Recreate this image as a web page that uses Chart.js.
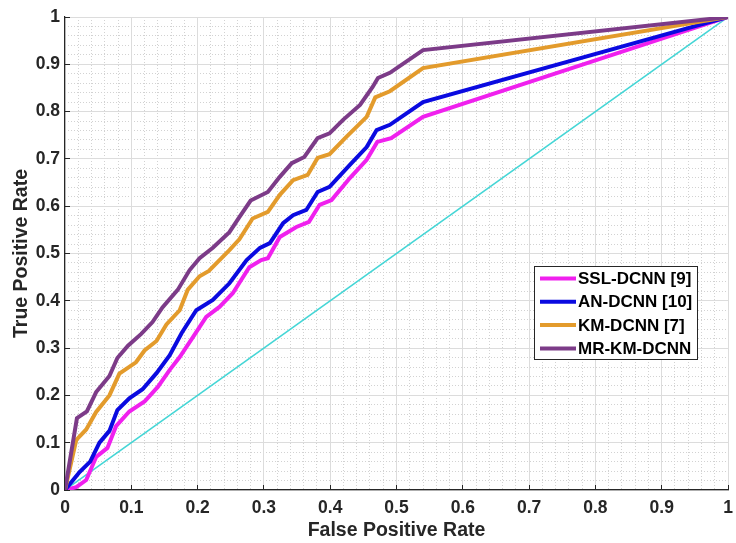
<!DOCTYPE html>
<html>
<head>
<meta charset="utf-8">
<script src="https://cdn.jsdelivr.net/npm/chart.js@4.4.1/dist/chart.umd.min.js"></script>
<style>
  body { margin: 0; background: #ffffff; }
  #wrap { width: 736px; height: 543px; }
</style>
</head>
<body>
<div id="wrap"><canvas id="roc" width="736" height="543"></canvas></div>
<script>
// Courbes ROC (FPR / TPR)
const labels = ["SSL-DCNN [9]", "AN-DCNN [10]", "KM-DCNN [7]", "MR-KM-DCNN"];

const sslFpr = [0, 0.017, 0.032, 0.047, 0.064, 0.077, 0.097, 0.12, 0.14, 0.158, 0.173, 0.193, 0.213, 0.233, 0.253, 0.278, 0.296, 0.306, 0.324, 0.349, 0.368, 0.384, 0.402, 0.43, 0.455, 0.471, 0.492, 0.54, 1];
const sslTpr = [0, 0.006, 0.021, 0.07, 0.089, 0.135, 0.166, 0.187, 0.218, 0.254, 0.281, 0.323, 0.366, 0.387, 0.416, 0.471, 0.486, 0.49, 0.535, 0.556, 0.567, 0.603, 0.613, 0.66, 0.698, 0.736, 0.744, 0.789, 1];

const anFpr = [0, 0.022, 0.038, 0.052, 0.067, 0.079, 0.097, 0.117, 0.138, 0.158, 0.176, 0.198, 0.223, 0.248, 0.274, 0.294, 0.309, 0.329, 0.344, 0.364, 0.381, 0.399, 0.43, 0.455, 0.47, 0.49, 0.54, 1];
const anTpr = [0, 0.038, 0.06, 0.1, 0.125, 0.169, 0.194, 0.213, 0.247, 0.285, 0.332, 0.38, 0.402, 0.437, 0.486, 0.512, 0.522, 0.564, 0.581, 0.592, 0.63, 0.641, 0.688, 0.725, 0.761, 0.772, 0.82, 1];

const kmFpr = [0, 0.017, 0.032, 0.047, 0.067, 0.082, 0.107, 0.12, 0.138, 0.153, 0.173, 0.185, 0.203, 0.217, 0.248, 0.263, 0.283, 0.306, 0.324, 0.344, 0.366, 0.381, 0.399, 0.424, 0.455, 0.468, 0.49, 0.54, 1];
const kmTpr = [0, 0.106, 0.128, 0.165, 0.2, 0.246, 0.27, 0.295, 0.315, 0.35, 0.38, 0.423, 0.452, 0.463, 0.507, 0.53, 0.574, 0.588, 0.624, 0.655, 0.666, 0.702, 0.71, 0.746, 0.789, 0.83, 0.843, 0.892, 1];

const mrFpr = [0, 0.018, 0.033, 0.047, 0.067, 0.079, 0.095, 0.115, 0.132, 0.147, 0.17, 0.188, 0.203, 0.223, 0.248, 0.263, 0.28, 0.306, 0.324, 0.342, 0.361, 0.381, 0.399, 0.419, 0.445, 0.464, 0.472, 0.49, 0.54, 1];
const mrTpr = [0, 0.152, 0.166, 0.207, 0.241, 0.279, 0.305, 0.33, 0.355, 0.386, 0.423, 0.465, 0.49, 0.512, 0.545, 0.577, 0.612, 0.63, 0.662, 0.691, 0.704, 0.744, 0.754, 0.782, 0.814, 0.852, 0.871, 0.882, 0.93, 1];

// diagonale (classifieur aléatoire)
const chanceFpr = [0, 1];
const chanceTpr = [0, 1];

const colors = ["#f020ee", "#0a0ae0", "#e39b2c", "#7c3b88"];

const toPoints = (xs, ys) => xs.map((x, i) => ({ x: x, y: ys[i] }));

const FONT = "'Liberation Sans', Arial, Helvetica, sans-serif";
const AXIS_COLOR = "#262626";

// Légende dessinée dans la zone du graphique (en bas à droite, comme MATLAB)
const insideLegend = {
  id: "insideLegend",
  afterDraw(chart) {
    const { ctx, chartArea } = chart;
    const items = chart.data.datasets.filter((d) => d.label);
    const boxW = 163;
    const rowH = 23.3;
    const boxH = 93;
    const left = chartArea.right - 31 - boxW;
    const top = chartArea.top + 249;
    ctx.save();
    ctx.fillStyle = "#ffffff";
    ctx.fillRect(left, top, boxW, boxH);
    ctx.strokeStyle = AXIS_COLOR;
    ctx.lineWidth = 1;
    ctx.strokeRect(Math.round(left) + 0.5, Math.round(top) + 0.5, boxW, boxH);
    ctx.font = "bold 17px " + FONT;
    ctx.textBaseline = "middle";
    ctx.textAlign = "left";
    items.forEach((d, i) => {
      const y = top + 12.5 + i * rowH;
      ctx.strokeStyle = d.borderColor;
      ctx.lineWidth = 4;
      ctx.beginPath();
      ctx.moveTo(left + 6, y);
      ctx.lineTo(left + 42, y);
      ctx.stroke();
      ctx.fillStyle = "#000000";
      ctx.fillText(d.label, left + 44, y + 1);
    });
    ctx.restore();
  },
};

const curves = [
  [sslFpr, sslTpr],
  [anFpr, anTpr],
  [kmFpr, kmTpr],
  [mrFpr, mrTpr],
];

const datasets = curves.map((c, i) => ({
  label: labels[i],
  data: toPoints(c[0], c[1]),
  borderColor: colors[i],
  backgroundColor: colors[i],
  borderWidth: 4,
  pointRadius: 0,
  tension: 0,
  fill: false,
  order: 4 - i,
}));

datasets.push({
  label: "",
  data: toPoints(chanceFpr, chanceTpr),
  borderColor: "#45d6d6",
  borderWidth: 1.5,
  pointRadius: 0,
  tension: 0,
  fill: false,
  order: 10,
});

// pas de marge automatique pour les étiquettes : la zone de tracé est fixée par layout.padding
const noPad = (s) => {
  s.paddingLeft = 0;
  s.paddingRight = 0;
  s.paddingTop = 0;
  s.paddingBottom = 0;
};

const minorGrid = (pos) => ({
  type: "linear",
  position: pos,
  min: 0,
  max: 1,
  ticks: { display: false, stepSize: 0.02 },
  grid: {
    drawTicks: false,
    lineWidth: 1,
    color: (c) => (c.index % 5 === 0 ? "rgba(0,0,0,0)" : "#d2d2d2"),
  },
  border: { display: false, dash: [1, 2] },
  afterFit: (s) => {
    if (pos === "bottom") s.height = 0;
    else s.width = 0;
    noPad(s);
  },
});

const tickFmt = (v) => Number(v.toFixed(1)).toString();

new Chart(document.getElementById("roc").getContext("2d"), {
  type: "line",
  data: { datasets: datasets },
  plugins: [insideLegend],
  options: {
    responsive: false,
    animation: false,
    layout: { padding: { top: 17, right: 8, left: 0, bottom: 0 } },
    plugins: { legend: { display: false }, tooltip: { enabled: false } },
    scales: {
      xMinor: minorGrid("bottom"),
      yMinor: minorGrid("left"),
      x: {
        type: "linear",
        position: "bottom",
        min: 0,
        max: 1,
        ticks: {
          stepSize: 0.1,
          padding: 13,
          color: AXIS_COLOR,
          font: { family: FONT, size: 17.5, weight: "bold" },
          callback: tickFmt,
          maxRotation: 0,
        },
        grid: { color: "#dcdcdc", lineWidth: 1, tickLength: -5, tickColor: AXIS_COLOR, tickWidth: 1 },
        border: { color: AXIS_COLOR, width: 1.2 },
        title: {
          display: true,
          text: "False Positive Rate",
          color: AXIS_COLOR,
          font: { family: FONT, size: 19.5, weight: "bold" },
          padding: { top: 0, bottom: 1 },
        },
        afterFit: (s) => { s.height = 53; noPad(s); },
      },
      y: {
        type: "linear",
        position: "left",
        min: 0,
        max: 1,
        ticks: {
          stepSize: 0.1,
          padding: 10,
          color: AXIS_COLOR,
          font: { family: FONT, size: 17.5, weight: "bold" },
          callback: tickFmt,
        },
        grid: { color: "#dcdcdc", lineWidth: 1, tickLength: -5, tickColor: AXIS_COLOR, tickWidth: 1 },
        border: { color: AXIS_COLOR, width: 1.2 },
        title: {
          display: true,
          text: "True Positive Rate",
          color: AXIS_COLOR,
          font: { family: FONT, size: 19.5, weight: "bold" },
          padding: { top: 10, bottom: 0 },
        },
        afterFit: (s) => { s.width = 65; noPad(s); },
      },
    },
  },
});
</script>
</body>
</html>
